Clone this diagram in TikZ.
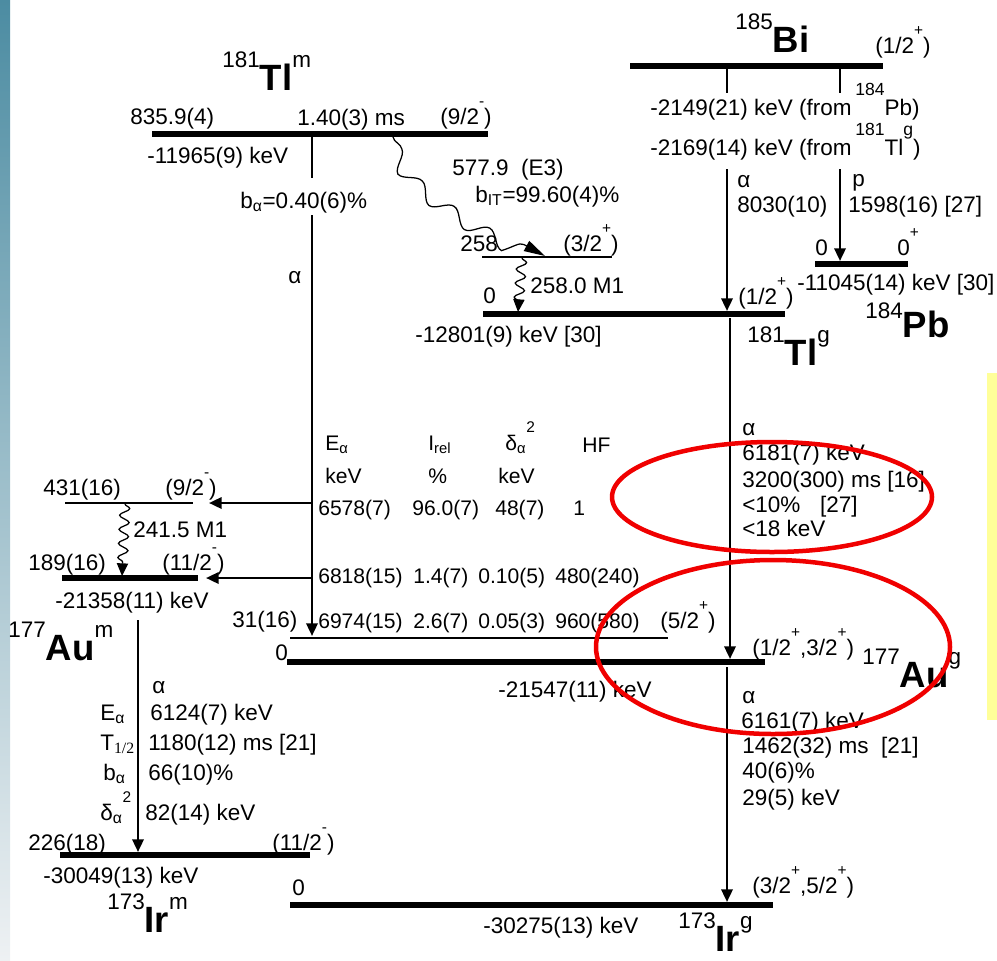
\documentclass[tikz,border=0pt]{standalone}
\usepackage{fontspec}
\setmainfont{Liberation Sans}
\newfontfamily\serfont{Liberation Serif}
\usetikzlibrary{arrows.meta,decorations.pathmorphing}

\definecolor{stripTop}{RGB}{76,140,162}
\definecolor{stripBot}{RGB}{238,241,243}
\definecolor{noteYellow}{RGB}{255,255,153}
\definecolor{ringRed}{RGB}{240,0,0}

\newcommand{\spin}[1]{\raisebox{12.5pt}{\fontsize{11}{11}\selectfont #1}}
\newcommand{\sml}[1]{\raisebox{14pt}{\fontsize{12.5}{12.5}\selectfont #1}}
\newcommand{\nuc}[4][16pt]{\raisebox{#1}{\fontsize{16}{16}\selectfont #2}{\fontsize{26}{26}\selectfont\bfseries #3}\raisebox{16pt}{\fontsize{16}{16}\selectfont #4}}

\begin{document}
\begin{tikzpicture}[x=0.025cm, y=-0.025cm, >={Triangle[length=9pt,width=8pt]},
  txt/.style={font=\fontsize{16}{19}\selectfont, inner sep=0pt, anchor=base west},
  tab/.style={font=\fontsize{15}{18}\selectfont},
  thicklev/.style={draw=black, line width=4.3pt},
  thinlev/.style={draw=black, line width=2pt},
  decay/.style={draw=black, line width=1.8pt},
  gam/.style={draw=black, line width=0.9pt, decorate, decoration={snake, amplitude=3.5pt, segment length=10pt, post length=6pt}},
  ring/.style={draw=ringRed, line width=3.2pt}]
\useasboundingbox (0,0) rectangle (997,960);
\shade[top color=stripTop, bottom color=stripBot] (0,0) rectangle (10,960);
\fill[noteYellow] (987,373) rectangle (997,720);
%levels
\coordinate (biL) at (630,66); \coordinate (biR) at (883,66);%185Bi
\coordinate (tlmL) at (152,134); \coordinate (tlmR) at (488,134);%181Tl m
\coordinate (tlxL) at (482,257); \coordinate (tlxR) at (612,257);%258
\coordinate (tlgL) at (483,314); \coordinate (tlgR) at (785,314);%181Tl g
\coordinate (pbL) at (815,264); \coordinate (pbR) at (908,264);%184Pb
\coordinate (auaL) at (65,503); \coordinate (auaR) at (193,503);%431
\coordinate (aumL) at (62,578); \coordinate (aumR) at (198,578);%189
\coordinate (aubL) at (290,638); \coordinate (aubR) at (668,638);%31
\coordinate (augL) at (287,662); \coordinate (augR) at (765,662);%177Au g
\coordinate (irmL) at (60,855); \coordinate (irmR) at (310,855);%173Ir m
\coordinate (irgL) at (290,905); \coordinate (irgR) at (773,905);%173Ir g
%transition ends
\coordinate (bi1) at (727,69); \coordinate (bi1b) at (727,93);
\coordinate (bi2) at (840,69); \coordinate (bi2b) at (840,93);
\coordinate (bi1c) at (727,169); \coordinate (bi1d) at (727,311);
\coordinate (bi2c) at (840,169); \coordinate (bi2d) at (840,261);
\coordinate (tm1) at (312,136); \coordinate (tm2) at (312,178);
\coordinate (tm3) at (312,215); \coordinate (tm4) at (312,636);
\coordinate (tmA) at (312,503); \coordinate (tmAe) at (209,503);
\coordinate (tmB) at (312,578); \coordinate (tmBe) at (206,578);
\coordinate (tg1) at (730,318); \coordinate (tg2) at (730,659);
\coordinate (ag1) at (727,667); \coordinate (ag2) at (727,902);
\coordinate (am1) at (138,620); \coordinate (am2) at (138,852);
\coordinate (ga1) at (393,137); \coordinate (ga2) at (545,256);
\coordinate (gb1) at (522,258); \coordinate (gb2) at (518,312);
\coordinate (gc1) at (125,504); \coordinate (gc2) at (122,576);
%
\begin{scope}[every edge/.style={thicklev}]
\path (biL) edge (biR);
\path (tlmL) edge (tlmR);
\path (tlgL) edge (tlgR);
\path (pbL) edge (pbR);
\path (aumL) edge (aumR);
\path (augL) edge (augR);
\path (irmL) edge (irmR);
\path (irgL) edge (irgR);
\end{scope}
\begin{scope}[every edge/.style={thinlev}]
\path (tlxL) edge (tlxR);
\path (auaL) edge (auaR);
\path (aubL) edge (aubR);
\end{scope}
\begin{scope}[every edge/.style={decay}]
\path (bi1) edge (bi1b);
\path (bi2) edge (bi2b);
\path[->] (bi1c) edge (bi1d);
\path[->] (bi2c) edge (bi2d);
\path (tm1) edge (tm2);
\path[->] (tm3) edge (tm4);
\path[->] (tmA) edge (tmAe);
\path[->] (tmB) edge (tmBe);
\path[->] (tg1) edge (tg2);
\path[->] (ag1) edge (ag2);
\path[->] (am1) edge (am2);
\end{scope}
%gammas
\draw[gam, decoration={amplitude=5pt, segment length=30pt, post length=15pt}, -{Triangle[length=15pt,width=8pt]}] (ga1) .. controls (400,185) and (495,228) .. (ga2);
\draw[gam, ->] (gb1) -- (gb2);
\draw[gam, ->] (gc1) -- (gc2);
%
\begin{scope}[every node/.style={txt}]
\node (nTlm) at (222,90) {\nuc{181}{Tl}{m}};
\node (nBi) at (735,52) {\nuc{185}{Bi}{}};
\node (nPb) at (865,337) {\nuc[13.5pt]{184}{Pb}{}};
\node (nTlg) at (747,365) {\nuc{181}{Tl}{g}};
\node (nAum) at (8,660) {\nuc{177}{Au}{m}};
\node (nAug) at (862,687) {\nuc{177}{Au}{g}};
\node (nIrm) at (107,932) {\nuc{173}{Ir}{m}};
\node (nIrg) at (678,951) {\nuc{173}{Ir}{g}};
%181Tl m
\node (tlmE) at (130,124) {835.9(4)};
\node (tlmT) at (297,125) {1.40(3) ms};
\node (tlmS) at (440,124) {(9/2\spin{-})};
\node (tlmM) at (147,163) {-11965(9) keV};
\node (tlmB) at (240,208) {b\textsubscript{α}=0.40(6)\%};
\node (tlmAl) at (288,283) {α};
\node (gaL1) at (452,175) {577.9\ \ (E3)};
\node (gaL2) at (475,202) {b\textsubscript{IT}=99.60(4)\%};
\node (tlxE) at (460,251) {258};
\node (tlxS) at (563,251) {(3/2\spin{+})};
\node (gbL) at (530,293) {258.0 M1};
%181Tl g
\node (tlgE) at (483,303) {0};
\node (tlgM) at (415,342) {-12801(9) keV [30]};
\node (tlgS) at (738,304) {(1/2\spin{+})};
%185Bi
\node (biS) at (875,53) {(1/2\spin{+})};
\node (biM1) at (650,115) {-2149(21) keV (from\,\sml{184}Pb)};
\node (biM2) at (650,155) {-2169(14) keV (from\,\sml{181}Tl\sml{g})};
\node (biAl) at (737,187) {α};
\node (biAe) at (737,212) {8030(10)};
\node (biP) at (852,186) {p};
\node (biPe) at (848,212) {1598(16) [27]};
%184Pb
\node (pbE) at (815,255) {0};
\node (pbS) at (897,255) {0\spin{+}};
\node (pbM) at (797,290) {-11045(14) keV [30]};
%table
\begin{scope}[every node/.append style={tab}]
\node (hE) at (325,450) {E\textsubscript{α}};
\node (hI) at (428,450) {I\textsubscript{rel}};
\node (hD) at (505,450) {δ\textsubscript{α}\spin{2}};
\node (hH) at (582,452) {HF};
\node (uE) at (325,483) {keV};
\node (uI) at (428,483) {\%};
\node (uD) at (498,483) {keV};
\node (r1a) at (318,515) {6578(7)};
\node (r1b) at (412,515) {96.0(7)};
\node (r1c) at (495,515) {48(7)};
\node (r1d) at (573,515) {1};
\node (r2a) at (318,583) {6818(15)};
\node (r2b) at (413,583) {1.4(7)};
\node (r2c) at (478,583) {0.10(5)};
\node (r2d) at (555,583) {480(240)};
\node (r3a) at (318,628) {6974(15)};
\node (r3b) at (413,628) {2.6(7)};
\node (r3c) at (478,628) {0.05(3)};
\node (r3d) at (555,628) {960(580)};
\end{scope}
\node (aubS) at (660,628) {(5/2\spin{+})};
%181Tl g alpha
\node (tgAl) at (742,435) {α};
\node (tgE) at (742,460) {6181(7) keV};
\node (tgT) at (742,487) {3200(300) ms [16]};
\node (tgB) at (742,512) {<10\%\hspace{14pt}[27]};
\node (tgD) at (742,536) {<18 keV};
%177Au m
\node (auaE) at (43,495) {431(16)};
\node (auaS) at (165,495) {(9/2\spin{-})};
\node (gcL) at (133,537) {241.5 M1};
\node (aumE) at (28,570) {189(16)};
\node (aumS) at (162,570) {(11/2\spin{-})};
\node (aumM) at (55,608) {-21358(11) keV};
\node (aubE) at (232,627) {31(16)};
%177Au g
\node (augE) at (275,660) {0};
\node (augM) at (498,697) {-21547(11) keV};
\node (augS) at (752,655) {(1/2\spin{+},3/2\spin{+})};
\node (agAl) at (742,703) {α};
\node (agE) at (741,728) {6161(7) keV};
\node (agT) at (742,753) {1462(32) ms\ \ [21]};
\node (agB) at (742,778) {40(6)\%};
\node (agD) at (742,805) {29(5) keV};
%173Ir g
\node (irgS) at (752,893) {(3/2\spin{+},5/2\spin{+})};
\node (irgM) at (483,933) {-30275(13) keV};
\node (irgE) at (292,895) {0};
%177Au m alpha
\node (amAl) at (152,693) {α};
\node (amEl) at (100,720) {E\textsubscript{α}};
\node (amE) at (150,720) {6124(7) keV};
\node (amTl) at (100,750) {T\textsubscript{\serfont 1/2}};
\node (amT) at (148,750) {1180(12) ms [21]};
\node (amBl) at (103,780) {b\textsubscript{α}};
\node (amB) at (148,780) {66(10)\%};
\node (amDl) at (100,820) {δ\textsubscript{α}\spin{2}};
\node (amD) at (145,820) {82(14) keV};
%173Ir m
\node (irmE) at (28,850) {226(18)};
\node (irmS) at (272,850) {(11/2\spin{-})};
\node (irmM) at (43,883) {-30049(13) keV};
\end{scope}
%rings
\draw[ring] (772,497) ellipse [x radius=160, y radius=55];
\draw[ring] (773,647) ellipse [x radius=177, y radius=87];
\end{tikzpicture}
\end{document}
